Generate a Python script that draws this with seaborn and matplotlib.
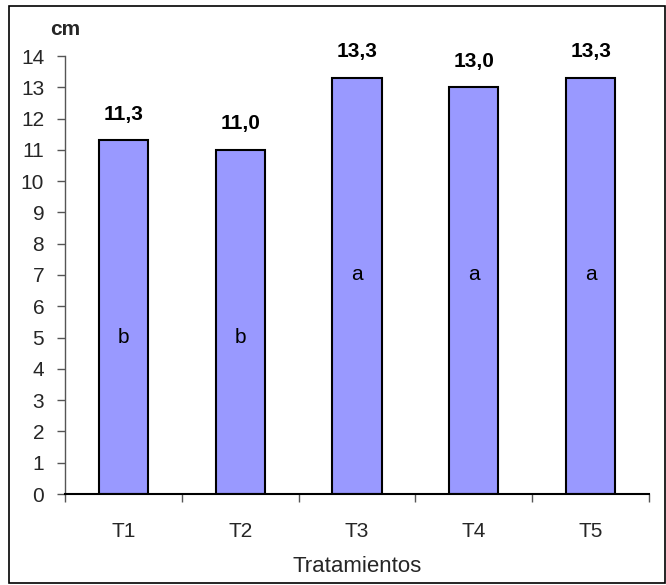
import matplotlib
matplotlib.use("Agg")
import matplotlib.pyplot as plt
from matplotlib.patches import Rectangle
import seaborn as sns
import pandas as pd

# Data
tratamientos = ["T1", "T2", "T3", "T4", "T5"]
altura_cm = [11.3, 11.0, 13.3, 13.0, 13.3]
letras = ["b", "b", "a", "a", "a"]
letra_y = [5, 5, 7, 7, 7]

df = pd.DataFrame({"Tratamiento": tratamientos, "Altura": altura_cm})

sns.set_theme(style="white")
plt.rcParams["font.family"] = ["Liberation Sans", "DejaVu Sans"]

FS = 15

fig = plt.figure(figsize=(6.66, 5.85), dpi=100)
ax = fig.add_axes([65 / 666, 1 - 494 / 585, (649 - 65) / 666, (494 - 56) / 585])

sns.barplot(data=df, x="Tratamiento", y="Altura", color="#9999FF",
            saturation=1, width=0.42, edgecolor="black", linewidth=1.5, ax=ax)

for i, (v, l, ly) in enumerate(zip(altura_cm, letras, letra_y)):
    ax.annotate(f"{v:.1f}".replace(".", ","), xy=(i, v), xytext=(0, 12),
                textcoords="offset points", ha="center", va="bottom",
                fontsize=FS, fontweight="bold", color="black")
    ax.text(i, ly, l, ha="center", va="center", fontsize=FS, color="black")

ax.set_ylim(0, 14)
ax.set_xlim(-0.5, len(tratamientos) - 0.5)
ax.set_yticks(range(0, 15))
ax.tick_params(axis="y", which="major", direction="out", length=6, width=1,
               color="#555555", labelsize=FS, pad=9, left=True)
ax.set_xticks(range(len(tratamientos)))
ax.set_xticks([x - 0.5 for x in range(len(tratamientos) + 1)], minor=True)
ax.tick_params(axis="x", which="major", length=0, labelsize=FS, pad=20)
ax.tick_params(axis="x", which="minor", direction="out", length=6, width=1,
               color="#555555", bottom=True)

for side in ["top", "right"]:
    ax.spines[side].set_visible(False)
ax.spines["left"].set_color("#555555")
ax.spines["left"].set_linewidth(1)
ax.spines["bottom"].set_color("black")
ax.spines["bottom"].set_linewidth(1.5)

ax.set_ylabel("")
ax.set_xlabel("Tratamientos", fontsize=FS + 1, labelpad=11)
ax.text(0, 1.038, "cm", transform=ax.transAxes, ha="center", va="bottom",
        fontsize=FS, fontweight="bold")

# Frame around the whole figure
fig.patches.append(Rectangle((9 / 666, 2 / 585), 656 / 666, 577 / 585,
                             transform=fig.transFigure, fill=False,
                             edgecolor="black", linewidth=1.2))

fig.savefig("out.png", dpi=100)
